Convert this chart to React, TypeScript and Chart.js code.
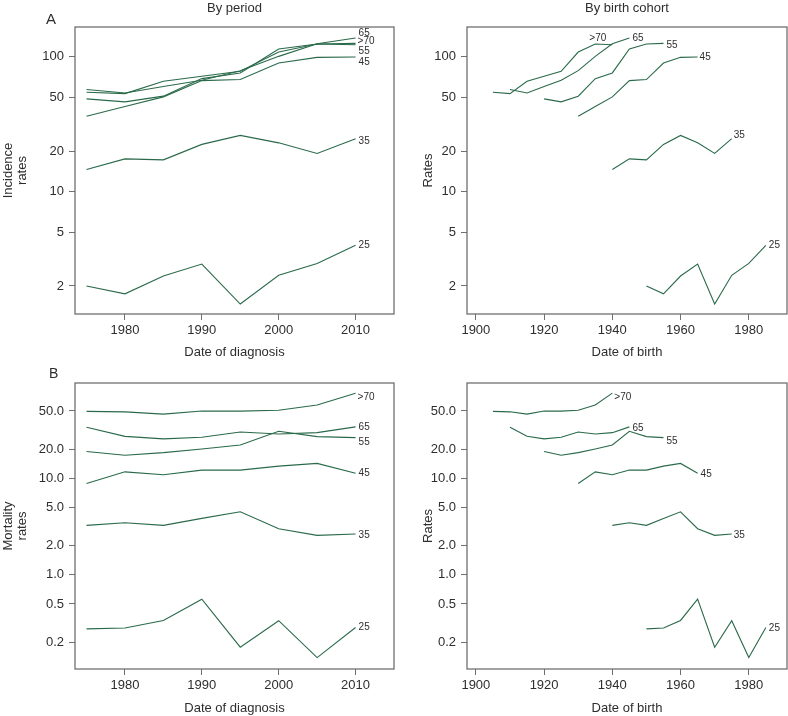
import React, { useEffect, useRef } from 'react';
import { Chart, registerables } from 'chart.js';

Chart.register(...registerables);

// ---------------- data ----------------
const periods = [1975, 1980, 1985, 1990, 1995, 2000, 2005, 2010];
const ageGroups = ['25', '35', '45', '55', '65', '>70'];
const cohortOffsets = [25, 35, 45, 55, 65, 70];

const incidence25 = [2.0, 1.75, 2.37, 2.91, 1.47, 2.4, 2.94, 4.0];
const incidence35 = [14.6, 17.5, 17.2, 22.4, 26.1, 23.0, 19.2, 24.7];
const incidence45 = [36.2, 42.7, 50.4, 66.5, 67.7, 89.8, 98.9, 99.5];
const incidence55 = [48.7, 46.3, 51.0, 68.8, 75.8, 114.0, 124.1, 125.5];
const incidence65 = [57.1, 53.9, 60.1, 66.9, 78.8, 100.6, 124.8, 137.5];
const incidence70 = [54.5, 53.3, 65.8, 71.6, 78.0, 108.3, 124.1, 122.7];

const mortality25 = [0.276, 0.281, 0.337, 0.56, 0.178, 0.335, 0.139, 0.285];
const mortality35 = [3.26, 3.47, 3.26, 3.85, 4.51, 3.01, 2.57, 2.65];
const mortality45 = [8.86, 11.7, 10.9, 12.2, 12.2, 13.4, 14.3, 11.3];
const mortality55 = [19.0, 17.4, 18.5, 20.2, 22.2, 30.8, 27.1, 26.5];
const mortality65 = [33.9, 27.3, 25.7, 26.7, 30.3, 28.9, 29.8, 34.2];
const mortality70 = [49.5, 49.0, 46.4, 50.0, 49.8, 50.8, 57.7, 76.5];

const periodTicks = [1980, 1990, 2000, 2010];
const cohortTicks = [1900, 1920, 1940, 1960, 1980];
const incidenceTicks = [2, 5, 10, 20, 50, 100];
const mortalityTicks = [0.2, 0.5, 1, 2, 5, 10, 20, 50];

const incidenceSeries = [incidence25, incidence35, incidence45, incidence55, incidence65, incidence70];
const mortalitySeries = [mortality25, mortality35, mortality45, mortality55, mortality65, mortality70];

// ---------------- styles ----------------
const FONT = '"Liberation Sans", Arial, Helvetica, sans-serif';
const LINE = '#2a6a4a';
const FRAME = '#707070';
const TEXT = '#2e2e2e';

// label nudges [dx, dy] in px relative to last point
const nudgePeriodInc: Record<string, [number, number]> = {
  '25': [3, 0], '35': [3, 3], '45': [3, 5], '55': [3, 8], '65': [3, -5], '>70': [2, -3],
};
const nudgeCohortInc: Record<string, [number, number]> = {
  '25': [3, 0], '35': [2, -3], '45': [2, 0], '55': [3, 2], '65': [3, 0], '>70': [-23, -6],
};
const nudgePeriodMort: Record<string, [number, number]> = {
  '25': [3, 0], '35': [3, 1], '45': [3, 0], '55': [3, 5], '65': [3, 0], '>70': [2, 4],
};
const nudgeCohortMort: Record<string, [number, number]> = {
  '25': [3, 1], '35': [2, 1.5], '45': [3, 1], '55': [3, 4], '65': [3, 1], '>70': [2, 4],
};

const endLabelPlugin = {
  id: 'endLabels',
  afterDatasetsDraw(chart: any, _args: any, opts: any) {
    const ctx = chart.ctx;
    ctx.save();
    ctx.font = `${opts.size}px ${FONT}`;
    ctx.fillStyle = TEXT;
    ctx.textBaseline = 'middle';
    ctx.textAlign = 'left';
    chart.data.datasets.forEach((ds: any, i: number) => {
      const pts = chart.getDatasetMeta(i).data;
      const last = pts[pts.length - 1];
      const nd = (opts.nudges && opts.nudges[ds.label]) || [3, 0];
      ctx.fillText(ds.label, last.x + nd[0], last.y + nd[1]);
    });
    ctx.restore();
  },
};

const framePlugin = {
  id: 'frame',
  afterDraw(chart: any) {
    const { left, top, right, bottom } = chart.chartArea;
    const ctx = chart.ctx;
    ctx.save();
    ctx.strokeStyle = FRAME;
    ctx.lineWidth = 1.3;
    ctx.strokeRect(left, top, right - left, bottom - top);
    ctx.restore();
  },
};

type PanelProps = {
  left: number; top: number; width: number; height: number;
  padTop: number; padRight: number; yScaleWidth: number; xScaleHeight: number;
  xMin: number; xMax: number; xTicks: number[];
  yMin: number; yMax: number; yTicks: number[]; yDecimals: number;
  xTitle: string; yTitle: string | string[]; yTitlePad: number;
  series: number[][]; cohort: boolean; nudges: Record<string, [number, number]>;
};

function Panel(p: PanelProps) {
  const ref = useRef<HTMLCanvasElement | null>(null);
  useEffect(() => {
    if (!ref.current) return;
    const datasets = p.series.map((vals, gi) => ({
      label: ageGroups[gi],
      data: vals.map((v, i) => ({ x: p.cohort ? periods[i] - cohortOffsets[gi] : periods[i], y: v })),
      borderColor: LINE,
      borderWidth: 1.1,
      pointRadius: 0,
      tension: 0,
      fill: false,
    }));
    const tickFont = { family: FONT, size: 13 };
    const chart = new Chart(ref.current, {
      type: 'line',
      data: { datasets },
      plugins: [endLabelPlugin, framePlugin],
      options: {
        animation: false,
        responsive: false,
        maintainAspectRatio: false,
        layout: { padding: { top: p.padTop, right: p.padRight, left: 0, bottom: 0 } },
        plugins: {
          legend: { display: false },
          tooltip: { enabled: false },
          title: { display: false },
          endLabels: { size: 10, nudges: p.nudges },
        } as any,
        scales: {
          x: {
            type: 'linear',
            min: p.xMin,
            max: p.xMax,
            afterBuildTicks: (s: any) => { s.ticks = p.xTicks.map((v) => ({ value: v })); },
            afterFit: (s: any) => { s.height = p.xScaleHeight; },
            ticks: {
              autoSkip: false, maxRotation: 0, padding: 3, color: TEXT, font: tickFont,
              callback: (v: any) => String(v),
            },
            grid: { display: true, drawOnChartArea: false, drawTicks: true, tickLength: 6, color: FRAME, lineWidth: 1 },
            border: { display: false },
            title: { display: true, text: p.xTitle, color: TEXT, font: { family: FONT, size: 13, lineHeight: 1.1 }, padding: { top: 0, bottom: 0 } },
          },
          y: {
            type: 'logarithmic',
            min: p.yMin,
            max: p.yMax,
            afterBuildTicks: (s: any) => { s.ticks = p.yTicks.map((v) => ({ value: v })); },
            afterFit: (s: any) => { s.width = p.yScaleWidth; },
            ticks: {
              autoSkip: false, padding: 5, color: TEXT, font: tickFont,
              callback: (v: any) => (p.yDecimals ? Number(v).toFixed(p.yDecimals) : String(v)),
            },
            grid: { display: true, drawOnChartArea: false, drawTicks: true, tickLength: 6, color: FRAME, lineWidth: 1 },
            border: { display: false },
            title: { display: true, text: p.yTitle, color: TEXT, font: { family: FONT, size: 13, lineHeight: 1.08 }, padding: { top: p.yTitlePad, bottom: 0 } },
          },
        },
      } as any,
    });
    return () => chart.destroy();
  }, []);
  return (
    <canvas
      ref={ref}
      width={p.width}
      height={p.height}
      style={{ position: 'absolute', left: p.left, top: p.top, width: p.width, height: p.height }}
    />
  );
}

const textStyle: React.CSSProperties = {
  position: 'absolute', fontFamily: FONT, color: TEXT, lineHeight: 1, whiteSpace: 'nowrap',
};

export default function App() {
  return (
    <div style={{ position: 'fixed', left: 0, top: 0, width: 788, height: 716, background: '#fff', overflow: 'hidden' }}>
      <Panel left={0} top={0} width={396} height={360} padTop={27} padRight={2} yScaleWidth={75} xScaleHeight={46}
        xMin={1973.5} xMax={2015} xTicks={periodTicks} yMin={1.24} yMax={166} yTicks={incidenceTicks} yDecimals={0}
        xTitle="Date of diagnosis" yTitle={['Incidence', 'rates']} yTitlePad={1}
        series={incidenceSeries} cohort={false} nudges={nudgePeriodInc} />
      <Panel left={396} top={0} width={392} height={360} padTop={27} padRight={1} yScaleWidth={71} xScaleHeight={46}
        xMin={1897.4} xMax={1991.2} xTicks={cohortTicks} yMin={1.24} yMax={166} yTicks={incidenceTicks} yDecimals={0}
        xTitle="Date of birth" yTitle="Rates" yTitlePad={25}
        series={incidenceSeries} cohort={true} nudges={nudgeCohortInc} />
      <Panel left={0} top={360} width={396} height={356} padTop={23} padRight={2} yScaleWidth={75} xScaleHeight={47}
        xMin={1973.5} xMax={2015} xTicks={periodTicks} yMin={0.1058} yMax={97.5} yTicks={mortalityTicks} yDecimals={1}
        xTitle="Date of diagnosis" yTitle={['Mortality', 'rates']} yTitlePad={1}
        series={mortalitySeries} cohort={false} nudges={nudgePeriodMort} />
      <Panel left={396} top={360} width={392} height={356} padTop={23} padRight={1} yScaleWidth={71} xScaleHeight={47}
        xMin={1897.4} xMax={1991.2} xTicks={cohortTicks} yMin={0.1058} yMax={97.5} yTicks={mortalityTicks} yDecimals={1}
        xTitle="Date of birth" yTitle="Rates" yTitlePad={25}
        series={mortalitySeries} cohort={true} nudges={nudgeCohortMort} />
      <div style={{ ...textStyle, left: 46, top: 11, fontSize: 15 }}>A</div>
      <div style={{ ...textStyle, left: 49, top: 366, fontSize: 14 }}>B</div>
      <div style={{ ...textStyle, left: 75, top: 1, width: 319, textAlign: 'center', fontSize: 13 }}>By period</div>
      <div style={{ ...textStyle, left: 467, top: 1, width: 320, textAlign: 'center', fontSize: 13 }}>By birth cohort</div>
    </div>
  );
}
